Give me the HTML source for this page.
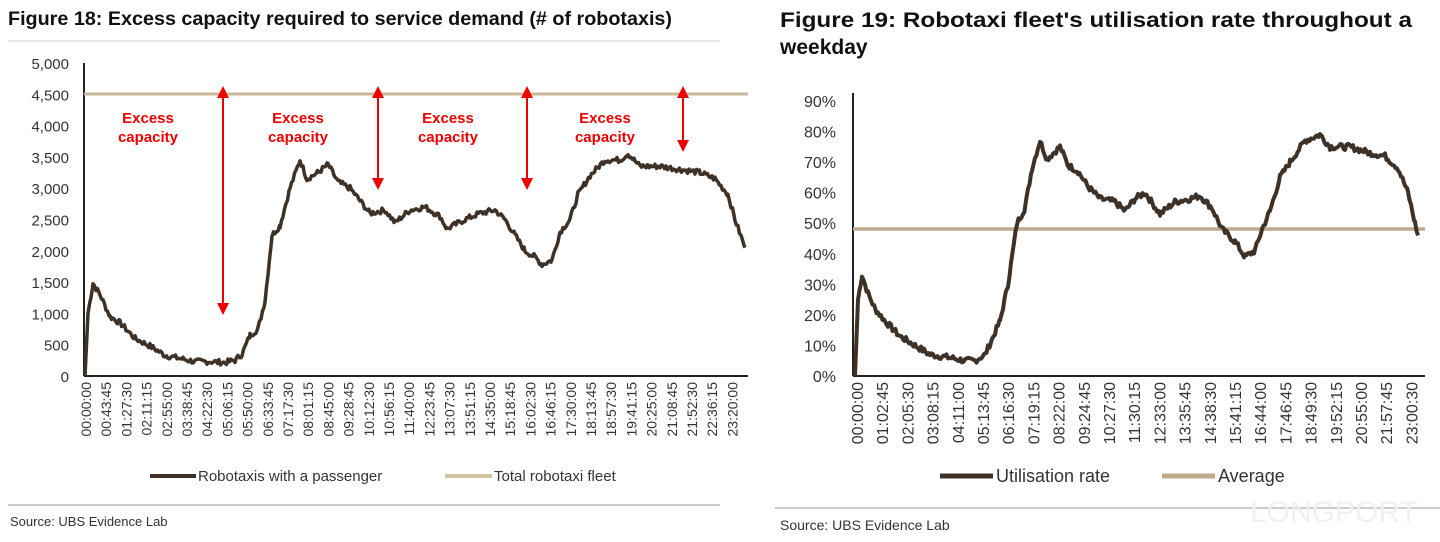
<!DOCTYPE html>
<html><head><meta charset="utf-8"><style>
body{margin:0;background:#fff;width:1440px;height:542px;overflow:hidden;font-family:"Liberation Sans",sans-serif}
svg{position:absolute;left:0;top:0}
</style></head><body>
<svg id="s" width="1440" height="542" xmlns="http://www.w3.org/2000/svg" font-family="Liberation Sans, sans-serif">
<text x="8" y="25" font-size="19" font-weight="bold" fill="#111" textLength="664" lengthAdjust="spacingAndGlyphs">Figure 18: Excess capacity required to service demand (# of robotaxis)</text>
<line x1="8" y1="41" x2="720" y2="41" stroke="#e4e4e4" stroke-width="2"/>
<text x="780" y="27" font-size="21" font-weight="bold" fill="#111" textLength="632" lengthAdjust="spacingAndGlyphs">Figure 19: Robotaxi fleet's utilisation rate throughout a</text>
<text x="780" y="54" font-size="21" font-weight="bold" fill="#111">weekday</text>
<g id="g"></g>
<line x1="8" y1="505" x2="720" y2="505" stroke="#ccc" stroke-width="2"/>
<text x="10" y="526" font-size="13" fill="#333">Source:  UBS Evidence Lab</text>
<line x1="775" y1="508" x2="1440" y2="508" stroke="#ccc" stroke-width="2"/>
<text x="780" y="530" font-size="14" fill="#333">Source:  UBS Evidence Lab</text>
<text x="1250" y="522" font-size="30" fill="#f0f0f0">LONGPORT</text>
</svg>
<script>
const g=document.getElementById('g');let h='';
const y1=v=>376-v*313/5000;
for(let v=0;v<=5000;v+=500){h+=`<text x="69" y="${y1(v)+6}" font-size="15" fill="#333" text-anchor="end">${v.toLocaleString('en-US')}</text>`;}
h+=`<line x1="84" y1="376" x2="748" y2="376" stroke="#222" stroke-width="2"/><line x1="84" y1="63" x2="84" y2="376" stroke="#222" stroke-width="2"/>`;
h+=`<line x1="84" y1="94" x2="748" y2="94" stroke="#c8b89a" stroke-width="3"/>`;
function fmt(m){const hh=Math.floor(m/3600),mm=Math.floor(m%3600/60),ss=m%60;return [hh,mm,ss].map(x=>String(x).padStart(2,'0')).join(':');}
for(let i=0;i<33;i++){const x=86+i*20.2+5;h+=`<text transform="translate(${x},382) rotate(-90)" font-size="14" fill="#333" text-anchor="end">${fmt(i*2625)}</text>`;}
function path(pts,f,noise){let d='';let seed=7;const r=()=>{seed=(seed*9301+49297)%233280;return seed/233280-0.5};
for(let i=0;i<pts.length-1;i++){const [xa,va]=pts[i],[xb,vb]=pts[i+1];for(let x=xa;x<xb;x+=1.5){const v=va+(vb-va)*(x-xa)/(xb-xa)+(i>0?r()*noise:0);d+=(d?'L':'M')+x.toFixed(1)+','+f(v).toFixed(1);}}
const l=pts[pts.length-1];d+='L'+l[0]+','+f(l[1]);return d;}
const p1=[[85,0],[88,1000],[93,1480],[100,1300],[110,950],[120,850],[135,600],[150,480],[165,330],[180,280],[195,230],[210,230],[225,215],[235,250],[242,350],[250,650],[258,750],[265,1200],[272,2250],[280,2400],[290,3000],[300,3450],[307,3150],[318,3250],[328,3380],[338,3100],[350,3000],[360,2800],[370,2600],[385,2650],[395,2450],[410,2650],[425,2700],[440,2550],[447,2350],[465,2500],[480,2600],[495,2650],[505,2500],[515,2250],[525,2000],[535,1900],[542,1780],[552,1850],[560,2300],[570,2500],[578,2900],[590,3200],[605,3450],[620,3450],[628,3550],[640,3350],[660,3350],[680,3300],[700,3250],[715,3150],[728,2900],[735,2500],[745,2050]];
h+=`<path d="${path(p1,y1,90)}" fill="none" stroke="#3e3228" stroke-width="3.5" stroke-linejoin="round"/>`;
function arrow(x,ya,yb){return `<line x1="${x}" y1="${ya+10}" x2="${x}" y2="${yb-10}" stroke="#e00" stroke-width="2"/><polygon points="${x-6},${ya+12} ${x+6},${ya+12} ${x},${ya}" fill="#e00"/><polygon points="${x-6},${yb-12} ${x+6},${yb-12} ${x},${yb}" fill="#e00"/>`;}
h+=arrow(223,86,315)+arrow(378,86,190)+arrow(527,86,190)+arrow(683,86,152);
[[148],[298],[448],[605]].forEach(([x])=>{h+=`<text x="${x}" y="123" font-size="15" font-weight="bold" fill="#e00" text-anchor="middle">Excess</text><text x="${x}" y="142" font-size="15" font-weight="bold" fill="#e00" text-anchor="middle">capacity</text>`;});
h+=`<line x1="150" y1="476" x2="196" y2="476" stroke="#3e3228" stroke-width="4"/><text x="198" y="481" font-size="15" fill="#333">Robotaxis with a passenger</text>`;
h+=`<line x1="445" y1="476" x2="492" y2="476" stroke="#d3c3a5" stroke-width="4"/><text x="494" y="481" font-size="15" fill="#333">Total robotaxi fleet</text>`;
const y2=v=>376-v*275/90;
for(let v=0;v<=90;v+=10){h+=`<text x="836" y="${y2(v)+6}" font-size="16" fill="#333" text-anchor="end">${v}%</text>`;}
h+=`<line x1="853" y1="376" x2="1425" y2="376" stroke="#222" stroke-width="2"/><line x1="853" y1="93" x2="853" y2="376" stroke="#222" stroke-width="2"/>`;
h+=`<line x1="853" y1="229" x2="1425" y2="229" stroke="#c0a88a" stroke-width="3.5"/>`;
for(let i=0;i<23;i++){const x=857+i*25.2+6;h+=`<text transform="translate(${x},382) rotate(-90)" font-size="16" fill="#333" text-anchor="end">${fmt(i*3765)}</text>`;}
const p2=[[855,0],[858,25],[862,33],[868,27],[875,22],[885,18],[900,13],[915,10],[930,7],[950,6],[965,5],[975,5],[985,7],[992,12],[1000,18],[1008,30],[1017,50],[1025,55],[1032,68],[1040,77],[1047,71],[1060,75],[1068,69],[1078,67],[1088,62],[1100,58],[1115,57],[1125,54],[1135,58],[1145,60],[1160,53],[1175,57],[1190,58],[1200,59],[1212,55],[1222,48],[1235,44],[1245,39],[1255,41],[1262,48],[1270,54],[1280,65],[1290,70],[1305,77],[1320,79],[1330,75],[1350,75],[1370,73],[1385,72],[1398,68],[1408,60],[1415,50],[1418,46]];
h+=`<path d="${path(p2,y2,2)}" fill="none" stroke="#3e3228" stroke-width="4" stroke-linejoin="round"/>`;
h+=`<line x1="940" y1="476" x2="993" y2="476" stroke="#3e3228" stroke-width="5"/><text x="996" y="482" font-size="18" fill="#333">Utilisation rate</text>`;
h+=`<line x1="1162" y1="476" x2="1215" y2="476" stroke="#c0a88a" stroke-width="5"/><text x="1218" y="482" font-size="18" fill="#333">Average</text>`;
g.innerHTML=h;
</script>
</body></html>
